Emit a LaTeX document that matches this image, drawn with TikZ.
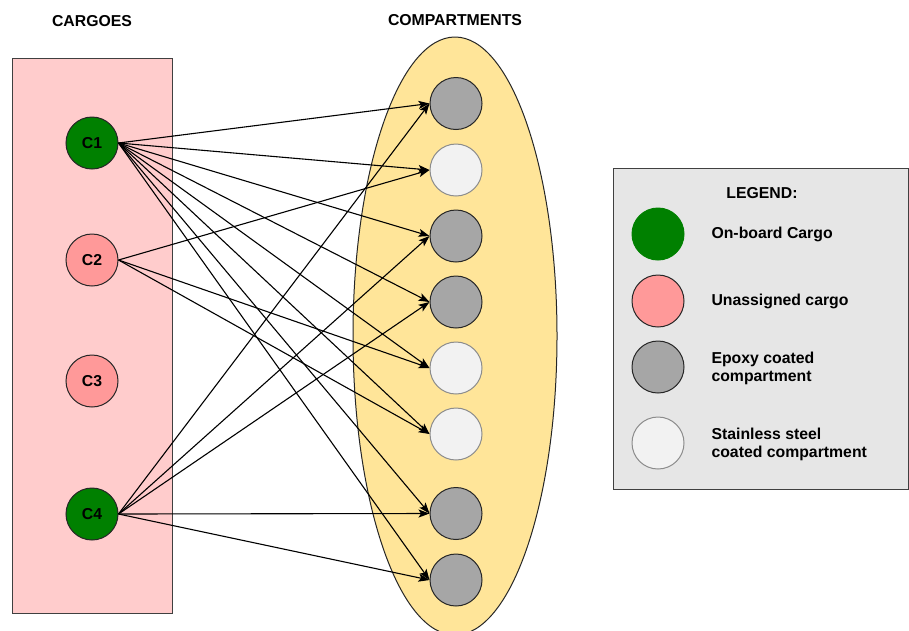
\documentclass[tikz,border=0pt]{standalone}
\usepackage{fontspec}
\setmainfont{Liberation Sans}
\usetikzlibrary{arrows.meta,shapes.geometric}
\definecolor{boxpink}{HTML}{FFCCCC}
\definecolor{cargopink}{HTML}{FF9999}
\definecolor{cargogreen}{HTML}{008000}
\definecolor{poolyellow}{HTML}{FFE599}
\definecolor{epoxy}{HTML}{A6A6A6}
\definecolor{steel}{HTML}{F2F2F2}
\definecolor{legendgray}{HTML}{E6E6E6}
\tikzset{
  lbl/.style={font=\fontsize{15.8}{18}\selectfont\bfseries, text=black},
  cargo/.style={circle, draw=black!85, line width=1pt, minimum size=52pt, inner sep=0pt, lbl},
  onboard/.style={cargo, fill=cargogreen},
  unassigned/.style={cargo, fill=cargopink},
  compt/.style={circle, line width=1pt, minimum size=52pt, inner sep=0pt},
  epoxycomp/.style={compt, draw=black!85, fill=epoxy},
  steelcomp/.style={compt, draw=black!45, fill=steel},
  link/.style={draw=black, line width=1.1pt, -{Stealth[length=11pt,width=8pt,inset=2.5pt]}},
  legtext/.style={lbl, anchor=west, align=left}
}
\begin{document}
\begin{tikzpicture}[x=1pt,y=-1pt]
\useasboundingbox (0,0) rectangle (909,630);

% cargo container and compartment pool
\node[draw=black!75, line width=1pt, fill=boxpink, minimum width=160pt, minimum height=555pt, inner sep=0pt] (cargobox) at (92,335.5) {};
\node[ellipse, draw=black!85, line width=1pt, fill=poolyellow, minimum width=204pt, minimum height=598pt, inner sep=0pt] (pool) at (455,336) {};

% titles
\node[lbl] (tcargo) at (92,21) {CARGOES};
\node[lbl] (tcomp) at (455,20) {COMPARTMENTS};

% cargoes
\node[onboard] (c1) at (92,143) {C1};
\node[unassigned] (c2) at (92,260) {C2};
\node[unassigned] (c3) at (92,381) {C3};
\node[onboard] (c4) at (92,514) {C4};

% compartments
\node[epoxycomp] (k1) at (456,103.5) {};
\node[steelcomp] (k2) at (456,170) {};
\node[epoxycomp] (k3) at (456,236) {};
\node[epoxycomp] (k4) at (456,302) {};
\node[steelcomp] (k5) at (456,368) {};
\node[steelcomp] (k6) at (456,434) {};
\node[epoxycomp] (k7) at (456,513.5) {};
\node[epoxycomp] (k8) at (456,580) {};

% assignments
\foreach \k in {1,...,8} {\draw[link] (c1.east) -- (k\k.west);}
\foreach \k in {2,5,6} {\draw[link] (c2.east) -- (k\k.west);}
\foreach \k in {1,3,4,7,8} {\draw[link] (c4.east) -- (k\k.west);}

% legend
\node[draw=black!75, line width=1pt, fill=legendgray, minimum width=295pt, minimum height=321pt, inner sep=0pt] (legend) at (760.5,328.5) {};
\node[lbl] (legtitle) at (762,193) {LEGEND:};
\node[compt, fill=cargogreen, draw=cargogreen] (lg1) at (658,234) {};
\node[unassigned] (lg2) at (658,301) {};
\node[epoxycomp] (lg3) at (658,367) {};
\node[steelcomp] (lg4) at (658,443) {};
\node[legtext] (lt1) at (708,234) {On-board Cargo};
\node[legtext] (lt2) at (708,301) {Unassigned cargo};
\node[legtext] (lt3) at (708,368) {Epoxy coated\\compartment};
\node[legtext] (lt4) at (708,444) {Stainless steel\\coated compartment};
\end{tikzpicture}
\end{document}
